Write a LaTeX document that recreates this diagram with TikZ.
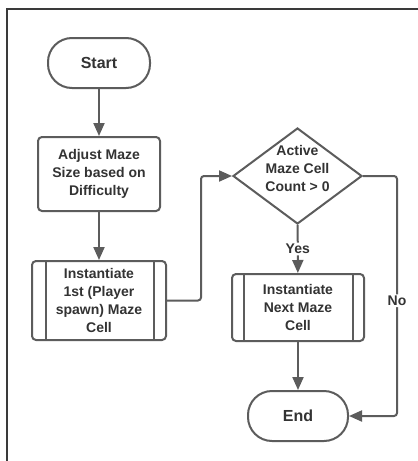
\documentclass[tikz,border=0pt]{standalone}
\usepackage{fontspec}
\setmainfont{Liberation Sans}
\usetikzlibrary{arrows.meta,shapes.geometric}
\definecolor{linegray}{HTML}{5C5C5C}
\definecolor{textgray}{HTML}{333333}
\definecolor{framegray}{HTML}{3A3A3A}
\begin{document}
\begin{tikzpicture}[x=1pt,y=-1pt,
  every node/.style={font=\bfseries\fontsize{14}{18}\selectfont, text=textgray, align=center},
  base/.style={draw=linegray, line width=2pt, fill=white, inner sep=0pt},
  terminal/.style={base, rounded corners=24pt, minimum width=#1, minimum height=50pt,
    font=\bfseries\fontsize{16}{19}\selectfont},
  process/.style={base, rounded corners=4pt, minimum width=122pt, minimum height=74pt},
  subproc/.style={base, rounded corners=4pt},
  decision/.style={base, diamond, minimum width=129pt, minimum height=96pt},
  flow/.style={draw=linegray, line width=2pt, -{Triangle[length=13pt,width=11pt]}, rounded corners=3pt},
  side/.style={draw=linegray, line width=2pt},
  lbl/.style={fill=white, inner sep=1.5pt},
]
\useasboundingbox (0,0) rectangle (418,461);
\fill[white] (0,0) rectangle (418,461);
% page frame
\draw[framegray, line width=1.2pt] (7,461) -- (7,9) -- (418,9);

% nodes
\node[terminal=102pt] (start) at (99,63) {Start};
\node[process] (adjust) at (99,174) {Adjust Maze\\Size based on\\Difficulty};
\node[subproc, minimum width=134pt, minimum height=79pt] (inst1) at (99,300.5)
  {Instantiate\\1st (Player\\spawn) Maze\\Cell};
\draw[side] ([xshift=15pt]inst1.north west) -- ([xshift=15pt]inst1.south west);
\draw[side] ([xshift=-13pt]inst1.north east) -- ([xshift=-13pt]inst1.south east);
\node[decision] (dec) at (297.5,176) {};
\node (dectext) at (297.5,168) {Active\\Maze Cell\\Count > 0};
\node[subproc, minimum width=132pt, minimum height=67pt] (next) at (298,307.5)
  {Instantiate\\Next Maze\\Cell};
\draw[side] ([xshift=13pt]next.north west) -- ([xshift=13pt]next.south west);
\draw[side] ([xshift=-12pt]next.north east) -- ([xshift=-12pt]next.south east);
\node[terminal=100pt] (end) at (298,416) {End};

% connectors
\draw[flow] (start) -- (adjust);
\draw[flow] (adjust) -- (inst1);
\draw[flow] (inst1.east) -- ++(34,0) |- (dec.west);
\draw[flow] (dec) -- node[lbl] {Yes} (next);
\draw[flow] (next) -- (end);
\draw[flow] (dec.east) -- ++(34,0) |- node[lbl, pos=0.26] {No} (end.east);
\end{tikzpicture}
\end{document}
